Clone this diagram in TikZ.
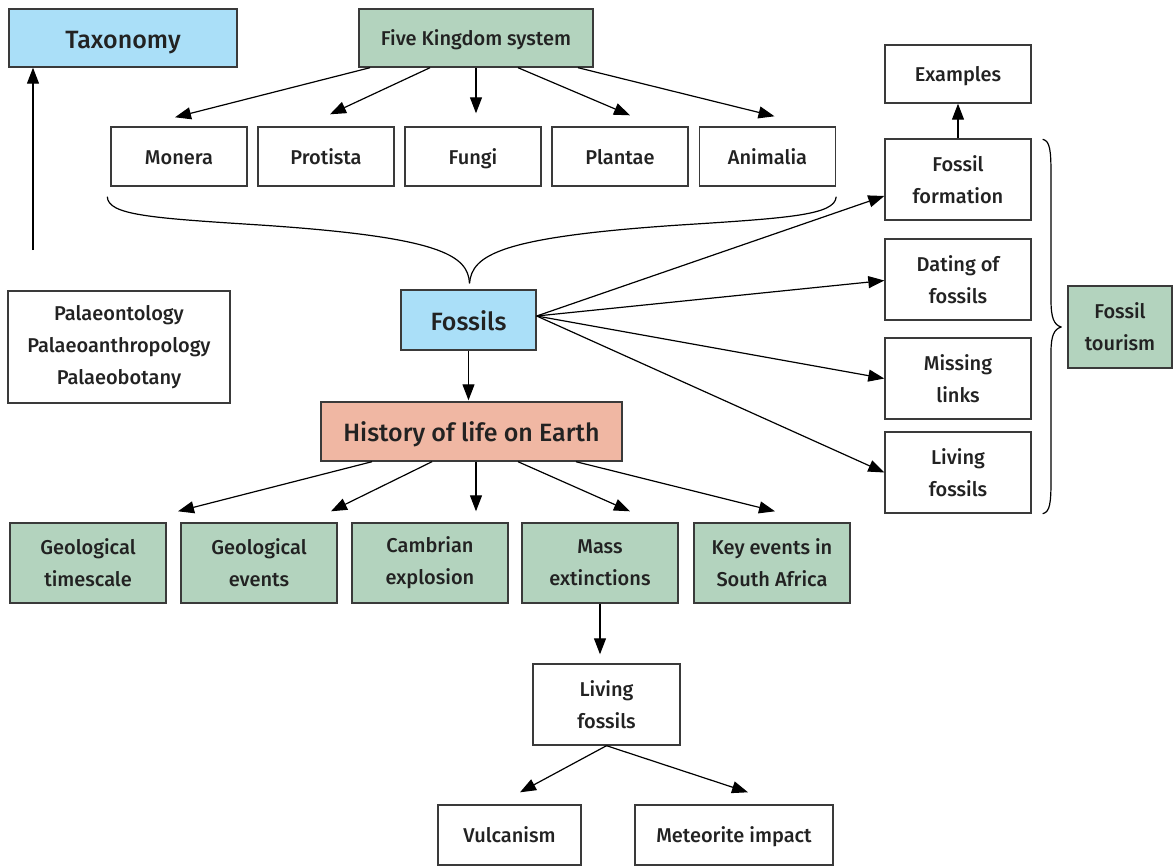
\documentclass[tikz,border=0pt]{standalone}
\usepackage{fontspec}
\setmainfont{Fira Sans Medium}
\usetikzlibrary{arrows.meta,calc}
\definecolor{bluef}{HTML}{AADFF8}
\definecolor{greenf}{HTML}{B3D3BE}
\definecolor{salmonf}{HTML}{F0B7A3}
\definecolor{edgec}{HTML}{3A3A3A}
\definecolor{txt}{HTML}{222222}
\begin{document}
\begin{tikzpicture}[x=1pt,y=-1pt,
  box/.style={draw=edgec,line width=1.4pt,inner sep=0pt,align=center,text=txt,font=\fontsize{20}{32}\selectfont},
  oneline/.style={text height=15pt,text depth=0pt},
  bigtxt/.style={font=\fontsize{25}{30}\selectfont,text height=20.5pt,text depth=0pt},
  bluebox/.style={box,fill=bluef},
  greenbox/.style={box,fill=greenf},
  arr/.style={line width=1.2pt,-{Triangle[length=16pt,width=12pt]}},
  brc/.style={line width=1.2pt}]
\useasboundingbox (0,0) rectangle (1173,867);
\node[bluebox,bigtxt,minimum width=228pt,minimum height=58pt] (tax) at (123,38) {Taxonomy};
\node[greenbox,oneline,minimum width=234pt,minimum height=58pt] (fks) at (476,38) {Five Kingdom system};
\foreach \n/\x/\t in {mon/179/Monera,pro/326/Protista,fun/473/Fungi,pla/620/Plantae,ani/767.5/Animalia}
  \node[box,oneline,minimum width=136pt,minimum height=59pt] (\n) at (\x,156.5) {\t};
\node[bluebox,bigtxt,minimum width=135pt,minimum height=60pt] (fos) at (468.5,320) {Fossils};
\node[box,fill=salmonf,bigtxt,minimum width=301pt,minimum height=59pt] (his) at (471.5,431.5) {History of life on Earth};
\node[box,minimum width=222pt,minimum height=112pt] (pal) at (119,347) {Palaeontology\\Palaeoanthropology\\Palaeobotany};
\foreach \n/\x/\t in {g1/88/Geological\\timescale,g2/259/Geological\\events,g3/430/Cambrian\\explosion,g4/600/Mass\\extinctions,g5/772/Key events in\\South Africa}
  \node[greenbox,minimum width=156pt,minimum height=80pt] (\n) at (\x,563) {\t};
\node[box,minimum width=147pt,minimum height=81pt] (lf) at (606.5,704.5) {Living\\fossils};
\node[box,oneline,minimum width=143pt,minimum height=60pt] (vul) at (509.5,835) {Vulcanism};
\node[box,oneline,minimum width=198pt,minimum height=60pt] (met) at (734,835) {Meteorite impact};
\node[box,oneline,minimum width=146pt,minimum height=58pt] (ex) at (958,74) {Examples};
\foreach \n/\y/\t in {ff/179.5/Fossil\\formation,dat/279.5/Dating of\\fossils,mis/378.5/Missing\\links,liv/472.5/Living\\fossils}
  \node[box,minimum width=146pt,minimum height=81pt] (\n) at (958,\y) {\t};
\node[greenbox,minimum width=104pt,minimum height=82pt] (tour) at (1120,327) {Fossil\\tourism};
\coordinate (tstart) at (33,250);
% arrows
\draw[arr] (tstart) -- ($(tax.south)+(-90,0)$);
\draw[arr] ($(fks.south)+(-106,0)$) -- ($(mon.north)+(-4,-9)$);
\draw[arr] ($(fks.south)+(-46,0)$) -- ($(pro.north)+(4,-12)$);
\draw[arr] ($(fks.south)+(0,0)$) -- ($(fun.north)+(3,-13)$);
\draw[arr] ($(fks.south)+(42,0)$) -- ($(pla.north)+(10,-11)$);
\draw[arr] ($(fks.south)+(102,0)$) -- ($(ani.north)+(7,-10)$);
\draw[arr] (fos.south) -- ($(fos.south |- his.north)+(0,-1)$);
\draw[arr] ($(his.south)+(-99.5,0)$) -- ($(g1.north)+(90,-11)$);
\draw[arr] ($(his.south)+(-39.5,0)$) -- ($(g2.north)+(72,-11)$);
\draw[arr] ($(his.south)+(4.5,0)$) -- ($(g3.north)+(46,-11)$);
\draw[arr] ($(his.south)+(46.5,0)$) -- ($(g4.north)+(30,-11)$);
\draw[arr] ($(his.south)+(104.5,0)$) -- ($(g5.north)+(3,-11)$);
\draw[arr] (g4.south) -- ($(lf.north)+(-6.5,-9)$);
\draw[arr] (lf.south) -- ($(vul.north)+(10.5,-12)$);
\draw[arr] (lf.south) -- ($(met.north)+(14,-12)$);
\draw[arr] (ff.north) -- (ex.south);
\draw[arr] ($(fos.east)+(0,-4)$) -- ($(ff.west)+(0,16.5)$);
\draw[arr] ($(fos.east)+(0,-4)$) -- ($(dat.west)+(0,1)$);
\draw[arr] ($(fos.east)+(0,-4)$) -- (mis.west);
\draw[arr] ($(fos.east)+(0,-4)$) -- (liv.west);
% lower brace under kingdoms
\draw[brc] ($(mon.south west)+(-3,10)$) .. controls (108,215) and (150,218) .. (260,225) .. controls (440,237) and (468,255) .. ($(fos.north)+(1,-6)$);
\draw[brc] ($(ani.south east)+(0,10)$) .. controls (835,215) and (790,218) .. (680,225) .. controls (500,237) and (472,255) .. ($(fos.north)+(1,-6)$);
% right brace
\draw[brc] ($(ff.north east)+(11,1)$) .. controls (1050,141) and (1051,150) .. (1051,175) -- (1051,300) .. controls (1051,318) and (1054,325) .. ($(tour.west)+(-6,0)$);
\draw[brc] ($(liv.south east)+(11,0)$) .. controls (1050,512) and (1051,503) .. (1051,480) -- (1051,352) .. controls (1051,336) and (1054,329) .. ($(tour.west)+(-6,0)$);
\end{tikzpicture}
\end{document}
